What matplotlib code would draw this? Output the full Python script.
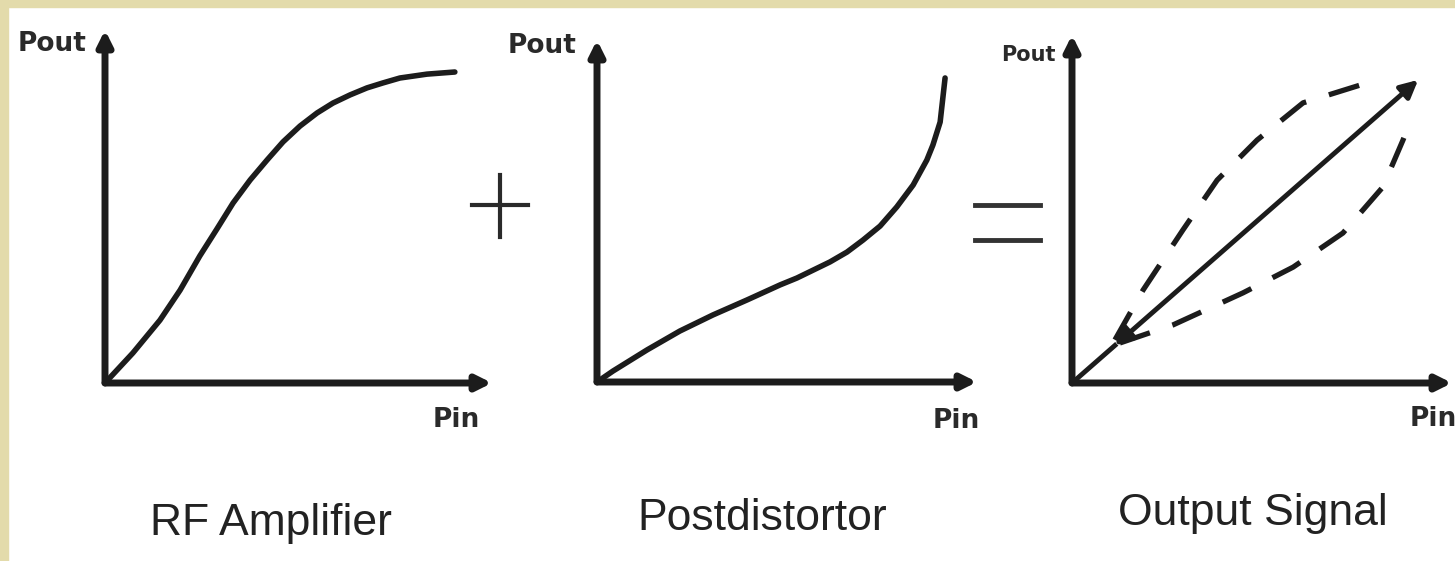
import matplotlib.pyplot as plt
from matplotlib.lines import Line2D
from matplotlib.patches import Rectangle

# 곡선 데이터 (Pin, Pout) - 각 패널 0~1 정규화 좌표
amp_pin  = [0, 0.072, 0.142, 0.194, 0.245, 0.289, 0.331, 0.375, 0.419, 0.46, 0.504,
            0.548, 0.589, 0.633, 0.677, 0.718, 0.762, 0.832, 0.904]
amp_pout = [0, 0.085, 0.178, 0.263, 0.36, 0.436, 0.51, 0.575, 0.632, 0.683, 0.728,
            0.765, 0.793, 0.816, 0.836, 0.85, 0.864, 0.875, 0.881]

post_pin  = [0, 0.042, 0.132, 0.218, 0.305, 0.395, 0.482, 0.526, 0.613, 0.658, 0.7,
             0.745, 0.789, 0.832, 0.868, 0.884, 0.903, 0.916]
post_pout = [0, 0.032, 0.094, 0.149, 0.196, 0.24, 0.284, 0.304, 0.351, 0.38, 0.415,
             0.456, 0.512, 0.576, 0.649, 0.693, 0.76, 0.889]

# 출력 신호 : 직선(양방향 화살표) + 위/아래 점선
out_line_pin  = [0, 0.113, 0.911]
out_line_pout = [0, 0.108, 0.871]
upper_pin  = [0.113, 0.187, 0.292, 0.382, 0.487, 0.608, 0.758, 0.80]
upper_pout = [0.124, 0.267, 0.440, 0.583, 0.698, 0.805, 0.856, 0.865]
lower_pin  = [0.126, 0.266, 0.45, 0.582, 0.713, 0.818, 0.871, 0.895]
lower_pout = [0.115, 0.167, 0.259, 0.333, 0.431, 0.563, 0.698, 0.764]

titles = ['RF Amplifier', 'Postdistortor', 'Output Signal']

W, H = 1455, 561
ink = '#1c1c1c'

fig = plt.figure(figsize=(W / 100, H / 100), dpi=100)
fig.patch.set_facecolor('white')

# 왼쪽/위쪽 베이지 테두리
fig.patches.append(Rectangle((0, 0), 8 / W, 1, transform=fig.transFigure,
                             color='#e3dbab', zorder=0))
fig.patches.append(Rectangle((0, 1 - 7 / H), 1, 7 / H, transform=fig.transFigure,
                             color='#e3dbab', zorder=0))

def px(x, y):
    # 픽셀 좌표 -> figure 비율
    return x / W, 1 - y / H

def panel(x0, y0, w, h):
    ax = fig.add_axes([x0 / W, (H - y0) / H, w / W, h / H])
    ax.set_xlim(0, 1)
    ax.set_ylim(0, 1)
    ax.axis('off')
    # 축 화살표
    for end in [(1, 0), (0, 1)]:
        ax.annotate('', xy=end, xytext=(0, 0), annotation_clip=False,
                    arrowprops=dict(arrowstyle='-|>', lw=5, color=ink,
                                    mutation_scale=22, shrinkA=0, shrinkB=0))
    return ax

ax1 = panel(105, 383, 387, 353)
ax1.plot(amp_pin, amp_pout, color=ink, lw=4, solid_joinstyle='round', solid_capstyle='round')

ax2 = panel(597, 382, 380, 342)
ax2.plot(post_pin, post_pout, color=ink, lw=4, solid_joinstyle='round', solid_capstyle='round')

ax3 = panel(1072, 383, 380, 348)
ax3.plot(out_line_pin[:2], out_line_pout[:2], color=ink, lw=3.5)
ax3.annotate('', xy=(out_line_pin[2], out_line_pout[2]),
             xytext=(out_line_pin[1], out_line_pout[1]),
             arrowprops=dict(arrowstyle='<|-|>', lw=3.5, color=ink,
                             mutation_scale=26, shrinkA=0, shrinkB=0))
ax3.plot(upper_pin, upper_pout, color=ink, lw=3.8, linestyle=(0, (6, 4.5)))
ax3.plot(lower_pin, lower_pout, color=ink, lw=3.8, linestyle=(0, (6, 4.5)))

# 축 이름
lab = dict(fontweight='bold', color='#2a2a2a', ha='center', va='center',
           family='DejaVu Sans')
for (x, y), fs in zip([(52, 44), (542, 46), (1028, 55)], [19, 19, 15]):
    fig.text(*px(x, y), 'Pout', fontsize=fs, **lab)
for (x, y) in [(456, 420), (956, 421), (1433, 419)]:
    fig.text(*px(x, y), 'Pin', fontsize=19, **lab)

# + 와 = 기호
fig.add_artist(Line2D([px(472, 0)[0], px(528, 0)[0]], [px(0, 205)[1]] * 2,
                      color='#2a2a2a', lw=3))
fig.add_artist(Line2D([px(500, 0)[0]] * 2, [px(0, 175)[1], px(0, 237)[1]],
                      color='#2a2a2a', lw=3))
for y in [205, 240]:
    fig.add_artist(Line2D([px(975, 0)[0], px(1040, 0)[0]], [px(0, y)[1]] * 2,
                          color='#333333', lw=3.5))

# 아래 제목
for t, (x, y) in zip(titles, [(271, 535), (762, 530), (1253, 525)]):
    fig.text(*px(x, y), t, fontsize=32, color='#222222', ha='center', va='baseline',
             family='Liberation Sans')

plt.savefig('out.png', dpi=100, facecolor=fig.get_facecolor())
